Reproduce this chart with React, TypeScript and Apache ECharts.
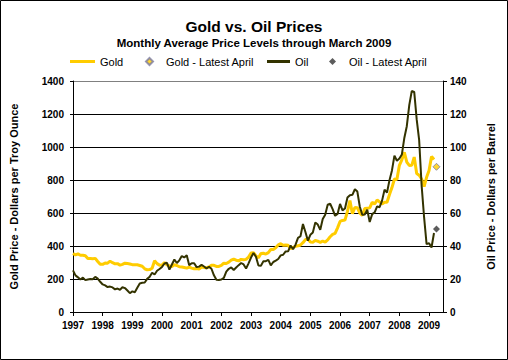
import React, { useEffect, useRef } from "react";
import * as echarts from "echarts";

const startYear = 1997;
const goldMonthly: number[] = [
  355, 346, 352, 344, 344, 341, 324, 324, 323, 325, 306, 289,
  289, 297, 296, 308, 299, 292, 293, 284, 289, 296, 294, 291,
  287, 287, 286, 282, 277, 262, 256, 257, 265, 311, 293, 284,
  285, 300, 286, 280, 275, 286, 282, 274, 273, 270, 266, 272,
  266, 262, 263, 261, 272, 270, 268, 273, 283, 283, 276, 276,
  282, 296, 294, 302, 314, 321, 314, 310, 319, 317, 319, 333,
  357, 359, 340, 328, 355, 356, 351, 360, 379, 379, 389, 407,
  414, 405, 406, 404, 384, 392, 398, 401, 406, 420, 439, 442,
  424, 423, 434, 429, 422, 430, 424, 437, 456, 470, 476, 510,
  549, 555, 557, 610, 676, 596, 633, 632, 599, 585, 627, 629,
  631, 665, 654, 679, 667, 655, 665, 665, 712, 754, 806, 803,
  889, 922, 968, 909, 888, 889, 939, 839, 829, 806, 760, 816,
  858, 943, 924,
];
const oilMonthly: number[] = [
  25.2, 22.2, 21.0, 19.7, 20.8, 19.3, 19.7, 20.0, 19.8, 21.3, 20.2, 18.3,
  16.7, 16.1, 15.1, 15.4, 14.9, 13.7, 14.2, 13.5, 15.0, 14.5, 13.0, 11.4,
  12.5, 12.0, 14.7, 17.3, 17.7, 17.9, 20.1, 21.3, 23.8, 22.7, 25.0, 26.1,
  27.3, 29.4, 29.8, 25.7, 28.8, 31.8, 29.7, 31.3, 33.9, 33.1, 34.4, 28.4,
  29.6, 29.6, 27.2, 27.5, 28.6, 27.6, 26.4, 27.4, 26.2, 22.2, 19.6, 19.4,
  19.7, 20.7, 24.5, 26.2, 27.0, 25.5, 27.0, 28.4, 29.7, 28.8, 26.4, 29.5,
  33.0, 35.8, 33.5, 28.2, 28.1, 30.7, 30.8, 31.6, 28.3, 30.3, 31.1, 32.1,
  34.3, 34.7, 36.7, 36.8, 40.3, 38.0, 40.8, 44.9, 45.9, 53.3, 48.5, 43.2,
  46.8, 48.2, 54.2, 53.0, 49.8, 56.4, 59.0, 65.0, 65.6, 62.3, 58.3, 59.4,
  65.5, 61.6, 62.7, 69.4, 70.8, 71.0, 74.4, 73.0, 63.8, 58.9, 59.1, 62.0,
  54.5, 59.3, 60.4, 64.0, 63.5, 67.5, 74.1, 72.4, 79.9, 85.8, 94.8, 91.7,
  93.0, 95.4, 105.5, 112.6, 125.4, 133.9, 133.4, 116.7, 104.1, 76.6, 57.3, 41.1,
  41.7, 39.1, 47.9,
];
const latestMonthIndex = 147; // April 2009
const goldLatestApril = 880;
const oilLatestApril = 50.3;

const FONT = "'Liberation Sans', Arial, Helvetica, sans-serif";

export default function App() {
  const ref = useRef<HTMLDivElement>(null);
  useEffect(() => {
    if (!ref.current) return;
    const chart = echarts.init(ref.current, undefined, { renderer: "svg" });
    const xOf = (i: number) => startYear + i / 12;
    const goldData = goldMonthly.map((v, i) => [xOf(i), v]);
    const oilData = oilMonthly.map((v, i) => [xOf(i), v]);
    const legendBase = {
      top: 51,
      itemHeight: 7,
      textStyle: { fontFamily: FONT, fontSize: 11, color: "#000" },
      selectedMode: false as const,
    };
    chart.setOption({
      animation: false,
      backgroundColor: "#fff",
      textStyle: { fontFamily: FONT },
      title: [
        {
          text: "Gold vs. Oil Prices",
          left: "center",
          top: 13,
          textStyle: { fontFamily: FONT, fontSize: 15.5, fontWeight: "bold", color: "#000" },
        },
        {
          text: "Monthly Average Price Levels through March 2009",
          left: "center",
          top: 32,
          textStyle: { fontFamily: FONT, fontSize: 11.5, fontWeight: "bold", color: "#000" },
        },
      ],
      legend: [
        { ...legendBase, left: 65, itemWidth: 25, itemHeight: 3, data: [{ name: "Gold", icon: "rect" }] },
        {
          ...legendBase,
          left: 140,
          itemWidth: 7,
          textStyle: { ...legendBase.textStyle, padding: [0, 0, 0, 8] },
          data: [{ name: "Gold - Latest April", icon: "diamond" }],
        },
        { ...legendBase, left: 262, itemWidth: 23, itemHeight: 3, data: [{ name: "Oil", icon: "rect" }] },
        {
          ...legendBase,
          left: 324,
          itemWidth: 7,
          textStyle: { ...legendBase.textStyle, padding: [0, 0, 0, 8] },
          data: [{ name: "Oil - Latest April", icon: "diamond" }],
        },
      ],
      grid: { left: 69, right: 65, top: 81, bottom: 48, containLabel: false },
      xAxis: {
        type: "value",
        min: 1997,
        max: 2009.47,
        interval: 1,
        axisLine: { show: true, lineStyle: { color: "#000", width: 1 } },
        axisTick: { show: true, length: 4, lineStyle: { color: "#000" } },
        axisLabel: {
          margin: 8,
          fontFamily: FONT,
          fontSize: 10,
          fontWeight: "bold",
          color: "#000",
          showMaxLabel: false,
          formatter: (v: number) => (Math.abs(v - Math.round(v)) < 1e-6 ? String(Math.round(v)) : ""),
        },
        splitLine: { show: false },
      },
      yAxis: [
        {
          type: "value",
          min: 0,
          max: 1400,
          interval: 200,
          position: "left",
          name: "Gold Price - Dollars per Troy Ounce",
          nameLocation: "middle",
          nameGap: 54,
          nameTextStyle: { fontFamily: FONT, fontSize: 11, fontWeight: "bold", color: "#000" },
          axisLine: { show: true, lineStyle: { color: "#000" } },
          axisTick: { show: true, length: 3, lineStyle: { color: "#000" } },
          axisLabel: {
            margin: 9,
            fontFamily: FONT,
            fontSize: 10,
            fontWeight: "bold",
            color: "#000",
            formatter: (v: number) => String(v),
          },
          splitLine: {
            show: true,
            lineStyle: {
              color: ["#000", "#000", "#000", "#000", "#000", "#000", "#000", "#808080"],
              width: 1,
            },
          },
        },
        {
          type: "value",
          min: 0,
          max: 140,
          interval: 20,
          position: "right",
          name: "Oil Price - Dollars per Barrel",
          nameLocation: "middle",
          nameGap: 42,
          nameRotate: 90,
          nameTextStyle: { fontFamily: FONT, fontSize: 11, fontWeight: "bold", color: "#000" },
          axisLine: { show: true, lineStyle: { color: "#000" } },
          axisTick: { show: true, length: 4, lineStyle: { color: "#000" } },
          axisLabel: {
            margin: 7,
            fontFamily: FONT,
            fontSize: 10,
            fontWeight: "bold",
            color: "#000",
            formatter: (v: number) => String(v),
          },
          splitLine: { show: false },
        },
      ],
      series: [
        {
          name: "Gold",
          type: "line",
          yAxisIndex: 0,
          data: goldData,
          symbol: "none",
          lineStyle: { color: "#FFCC00", width: 3 },
          itemStyle: { color: "#FFCC00" },
          z: 2,
        },
        {
          name: "Gold - Latest April",
          type: "scatter",
          yAxisIndex: 0,
          data: [[xOf(latestMonthIndex), goldLatestApril]],
          symbol: "diamond",
          symbolSize: 7,
          itemStyle: { color: "#FFCC00", borderColor: "#7a7aa0", borderWidth: 1 },
          z: 4,
        },
        {
          name: "Oil",
          type: "line",
          yAxisIndex: 1,
          data: oilData,
          symbol: "none",
          lineStyle: { color: "#333300", width: 2 },
          itemStyle: { color: "#333300" },
          z: 3,
        },
        {
          name: "Oil - Latest April",
          type: "scatter",
          yAxisIndex: 1,
          data: [[xOf(latestMonthIndex), oilLatestApril]],
          symbol: "diamond",
          symbolSize: 7,
          itemStyle: { color: "#333333" },
          z: 4,
        },
      ],
      graphic: [
        {
          type: "rect",
          shape: { x: 0.5, y: 0.5, width: 507, height: 359 },
          style: { fill: "none", stroke: "#000", lineWidth: 1 },
          silent: true,
        },
      ],
    });
    return () => chart.dispose();
  }, []);
  return (
    <div
      ref={ref}
      style={{ position: "fixed", left: 0, top: 0, width: 508, height: 360 }}
    />
  );
}
